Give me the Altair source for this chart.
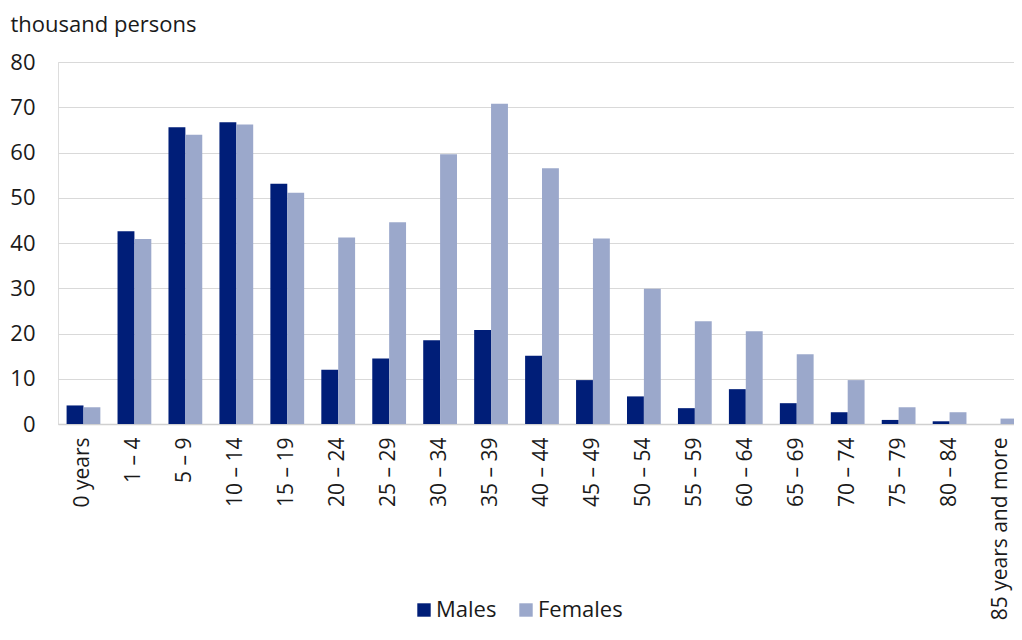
import altair as alt
import pandas as pd

categories = ["0 years", "1 – 4", "5 – 9", "10 – 14", "15 – 19", "20 – 24", "25 – 29",
              "30 – 34", "35 – 39", "40 – 44", "45 – 49", "50 – 54", "55 – 59", "60 – 64",
              "65 – 69", "70 – 74", "75 – 79", "80 – 84", "85 years and more"]
males = [4.1, 42.6, 65.6, 66.7, 53.1, 12.0, 14.5, 18.5, 20.8, 15.1, 9.7, 6.1, 3.5, 7.7,
         4.6, 2.6, 0.9, 0.6, 0.0]
females = [3.7, 40.9, 63.9, 66.2, 51.1, 41.2, 44.6, 59.6, 70.8, 56.5, 41.0, 29.9, 22.7, 20.5,
           15.4, 9.7, 3.7, 2.6, 1.2]
series = ["Males", "Females"]
colors = ["#001e78", "#9ba8cb"]

rows = []
for c, m, f in zip(categories, males, females):
    rows.append({"age": c, "sex": "Males", "value": m})
    rows.append({"age": c, "sex": "Females", "value": f})
df = pd.DataFrame(rows)

FONT = "Open Sans"
TXT = "#1a1a1a"
FS = 22

chart = alt.Chart(df).mark_bar().encode(
    x=alt.X("age:N", sort=categories,
            scale=alt.Scale(paddingInner=0.337, paddingOuter=0.1685, range=[0, 968]),
            axis=alt.Axis(title=None, labelAngle=270, labelAlign="right", labelBaseline="middle",
                          labelPadding=13, ticks=False, domainColor="#d0d0d0", domainWidth=1.5,
                          labelFont=FONT, labelFontSize=21, labelColor=TXT, grid=False,
                          labelOverlap=False, labelLimit=0)),
    xOffset=alt.XOffset("sex:N", sort=series),
    y=alt.Y("value:Q", scale=alt.Scale(domain=[0, 80]),
            axis=alt.Axis(values=list(range(0, 81, 10)), title="thousand persons", titleAngle=0,
                          titleAlign="left", titleBaseline="alphabetic", titleX=-48, titleY=-31,
                          titleFont=FONT, titleFontSize=FS, titleFontWeight="normal", titleColor=TXT,
                          domain=False, ticks=False, tickSize=0, labelPadding=23,
                          labelFont=FONT, labelFontSize=FS, labelColor=TXT,
                          gridColor="#d9d9d9", gridWidth=1)),
    color=alt.Color("sex:N", scale=alt.Scale(domain=series, range=colors),
                    legend=alt.Legend(title=None, orient="none", legendX=355, legendY=537,
                                      direction="horizontal", symbolType="square", symbolSize=180,
                                      labelFont=FONT, labelFontSize=FS, labelColor=TXT,
                                      columnPadding=18, labelOffset=1, symbolStrokeWidth=0)),
).properties(
    width=956, height=362,
    autosize=alt.AutoSizeParams(type="none"),
    padding={"left": 50, "top": 54, "right": 0, "bottom": 208},
).configure_view(stroke=None).configure(font=FONT)

chart.save("out.html", embed_options={"renderer": "svg", "actions": False})
